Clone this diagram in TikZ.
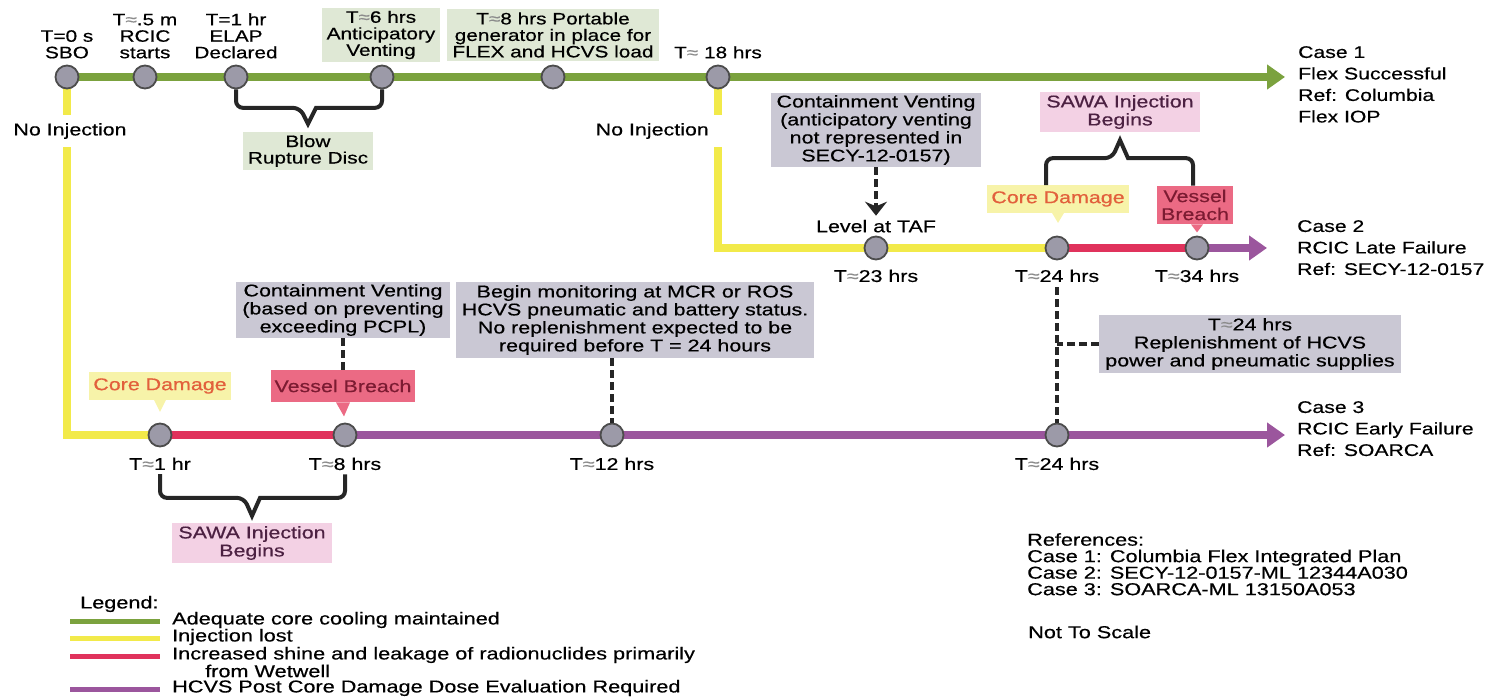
\documentclass[tikz,border=0pt]{standalone}
\usepackage{fontspec}
\setmainfont{Liberation Sans}[FakeStretch=1.26,FakeBold=0.5]
\usetikzlibrary{arrows.meta,positioning,backgrounds}

\definecolor{cooling}{HTML}{7BA23E}
\definecolor{injlost}{HTML}{F2EA4A}
\definecolor{shine}{HTML}{E0325C}
\definecolor{dose}{HTML}{9B569D}
\definecolor{evgray}{HTML}{9C9AA8}
\definecolor{boxgreen}{HTML}{DFE8D5}
\definecolor{boxgray}{HTML}{CAC8D4}
\definecolor{boxpink}{HTML}{F3D1E4}
\definecolor{cdfill}{HTML}{F7F3A9}
\definecolor{cdtext}{HTML}{E2603C}
\definecolor{vbfill}{HTML}{EB6A84}
\definecolor{vbtext}{HTML}{7C1B32}
\definecolor{sawatext}{HTML}{4C2142}

\newcommand\apx{{\color{black!45}≈}}

\tikzset{
  event/.style={circle, draw=black!70, fill=evgray, line width=1.8pt, minimum size=23pt, inner sep=0pt},
  tline/.style={line width=8pt},
  tarrow/.style={tline, -{Triangle[length=18pt,width=24pt]}},
  txt/.style={align=center, inner sep=1pt, font=\fontsize{17}{18}\selectfont},
  toptxt/.style={align=center, inner sep=1pt, font=\fontsize{16.5}{16.5}\selectfont},
  casetxt/.style={align=left, anchor=north west, inner sep=0pt, font=\fontsize{16.8}{21.5}\selectfont},
  legtxt/.style={anchor=west, inner sep=0pt, font=\fontsize{17.2}{17}\selectfont},
  greenbox/.style={toptxt, fill=boxgreen, inner xsep=5pt, inner ysep=3pt},
  graybox/.style={txt, fill=boxgray, inner xsep=6pt, inner ysep=2pt},
  sawabox/.style={txt, fill=boxpink, text=sawatext, inner xsep=6pt, inner ysep=3pt},
  cdbox/.style={txt, fill=cdfill, text=cdtext, inner xsep=4pt, inner ysep=6pt},
  vbbox/.style={txt, fill=vbfill, text=vbtext, inner xsep=4pt, inner ysep=4pt},
  noinj/.style={txt, fill=white, inner ysep=8pt},
  bracket/.style={line width=4pt, black!85, rounded corners=7pt},
  dashline/.style={line width=4pt, black!85, dash pattern=on 8pt off 4pt},
}

\begin{document}
\begin{tikzpicture}[x=1pt,y=-1pt]
  \useasboundingbox (0,0) rectangle (1490,700);

  % case 1 events
  \node[event] (sbo) at (67,77) {};
  \node[event] (rcic) at (145,77) {};
  \node[event] (elap) at (236,77) {};
  \node[event] (antv) at (382,77) {};
  \node[event] (gen) at (553,77) {};
  \node[event] (t18) at (718,77) {};
  % case 2 events
  \node[event] (taf) at (876,248) {};
  \node[event] (cdtwo) at (1057,248) {};
  \node[event] (vbtwo) at (1197,248) {};
  % case 3 events
  \node[event] (cdthree) at (160,435) {};
  \node[event] (vbthree) at (345,435) {};
  \node[event] (mon) at (612,435) {};
  \node[event] (rep) at (1057,435) {};

  \coordinate (tipone) at (1285,77);
  \coordinate (tiptwo) at (1267,248);
  \coordinate (tipthree) at (1285,435);

  \begin{pgfonlayer}{background}
    \draw[tarrow, cooling] (sbo.center) -- (tipone);
    \draw[tline, injlost] (t18.center) |- (cdtwo.center);
    \draw[tline, shine] (cdtwo.center) -- (vbtwo.center);
    \draw[tarrow, dose] (vbtwo.center) -- (tiptwo);
    \draw[tline, injlost] (sbo.center) |- (cdthree.center);
    \draw[tline, shine] (cdthree.center) -- (vbthree.center);
    \draw[tarrow, dose] (vbthree.center) -- (tipthree);
  \end{pgfonlayer}

  % case 1 labels
  \node[toptxt, above=5pt of sbo] (sbolab) {T=0 s\\SBO};
  \node[toptxt, above=5pt of rcic] (rciclab) {T\apx.5 m\\RCIC\\starts};
  \node[toptxt, above=5pt of elap] (elaplab) {T=1 hr\\ELAP\\Declared};
  \node[greenbox] (antvlab) at (381,35) {T\apx6 hrs\\Anticipatory\\Venting};
  \node[greenbox] (genlab) at (553,35) {T\apx8 hrs Portable\\generator in place for\\FLEX and HCVS load};
  \node[toptxt, above=5pt of t18] (t18lab) {T\apx\ 18 hrs};
  \node[greenbox] (blow) at (308,151) {Blow\\Rupture Disc};
  \draw[bracket] (elap.south) |- ([xshift=-8pt,yshift=24pt]blow.north)
    [sharp corners] -- ([yshift=8pt]blow.north) -- ([xshift=8pt,yshift=24pt]blow.north)
    [rounded corners=7pt] -| (antv.south);
  \node[noinj] (noinjone) at (70,131) {No Injection};
  \node[noinj, anchor=east] (noinjtwo) at (724,131) {No Injection\hspace*{14pt}};
  \node[casetxt] (caseone) at (1298,46) {Case 1\\Flex Successful\\Ref: Columbia\\Flex IOP};

  % case 2 labels
  \node[graybox] (cvtwo) at (876,130) {Containment Venting\\(anticipatory venting\\not represented in\\SECY-12-0157)};
  \node[txt, above=2pt of taf] (taflab) {Level at TAF};
  \draw[dashline, -{Stealth[length=14pt,width=22pt]}, shorten >=3pt] (cvtwo.south) -- (taflab.north);
  \node[txt, below=8pt of taf] (t23lab) {T\apx23 hrs};
  \node[txt, below=8pt of cdtwo] (t24lab) {T\apx24 hrs};
  \node[txt, below=8pt of vbtwo] (t34lab) {T\apx34 hrs};
  \node[cdbox] (cdtwobox) at (1058,199) {Core Damage};
  \fill[cdfill] ([xshift=-6pt]cdtwobox.south) -- ([xshift=6pt]cdtwobox.south) -- ([yshift=-10pt]cdtwobox.south) -- cycle;
  \node[vbbox] (vbtwobox) at (1195,205) {Vessel\\Breach};
  \fill[vbfill] ([xshift=-4pt]vbtwobox.south) -- ([xshift=8pt]vbtwobox.south) -- ([xshift=2pt,yshift=-8pt]vbtwobox.south) -- cycle;
  \node[sawabox] (sawatwo) at (1120,112) {SAWA Injection\\Begins};
  \draw[bracket] ([xshift=-12pt]cdtwobox.north) |- ([xshift=-8pt,yshift=-26pt]sawatwo.south)
    [sharp corners] -- ([yshift=-8pt]sawatwo.south) -- ([xshift=8pt,yshift=-26pt]sawatwo.south)
    [rounded corners=7pt] -| ([xshift=-2pt]vbtwobox.north);
  \node[casetxt] (casetwo) at (1297,220) {Case 2\\RCIC Late Failure\\Ref: SECY-12-0157};
  \node[graybox, inner ysep=3pt] (repbox) at (1250,344) {T\apx24 hrs\\Replenishment of HCVS\\power and pneumatic supplies};
  \draw[dashline] ([yshift=-4pt]t24lab.south) -- (rep.north);
  \draw[dashline] (repbox.west) -- (repbox.west -| rep);

  % case 3 labels
  \node[txt, below=9pt of cdthree] (t1lab) {T\apx1 hr};
  \node[txt, below=9pt of vbthree] (t8lab) {T\apx8 hrs};
  \node[txt, below=9pt of mon] (t12lab) {T\apx12 hrs};
  \node[txt, below=9pt of rep] (t24three) {T\apx24 hrs};
  \node[cdbox] (cdthreebox) at (160,386) {Core Damage};
  \fill[cdfill] ([xshift=-6pt]cdthreebox.south) -- ([xshift=6pt]cdthreebox.south) -- ([yshift=-12pt]cdthreebox.south) -- cycle;
  \node[vbbox, inner ysep=10pt] (vbthreebox) at (343,386) {Vessel Breach};
  \fill[vbfill] ([xshift=-7pt]vbthreebox.south) -- ([xshift=7pt]vbthreebox.south) -- ([xshift=1pt,yshift=-14pt]vbthreebox.south) -- cycle;
  \node[graybox] (cvthree) at (343,310) {Containment Venting\\(based on preventing\\exceeding PCPL)};
  \draw[dashline] (cvthree.south) -- (vbthreebox.north);
  \node[graybox, inner ysep=3pt] (monbox) at (635,320) {Begin monitoring at MCR or ROS\\HCVS pneumatic and battery status.\\No replenishment expected to be\\required before T = 24 hours};
  \draw[dashline] (monbox.south -| mon) -- (mon.north);
  \node[sawabox] (sawathree) at (252,543) {SAWA Injection\\Begins};
  \draw[bracket] ([yshift=-3pt]t1lab.south) |- ([xshift=-8pt,yshift=25pt]sawathree.north)
    [sharp corners] -- ([yshift=7pt]sawathree.north) -- ([xshift=8pt,yshift=25pt]sawathree.north)
    [rounded corners=7pt] -| ([yshift=-3pt]vbthree |- t8lab.south);
  \node[casetxt] (casethree) at (1297,401) {Case 3\\RCIC Early Failure\\Ref: SOARCA};

  % references
  \node[casetxt, font=\fontsize{17.2}{16.5}\selectfont] (refs) at (1027,533) {References:\\Case 1: Columbia Flex Integrated Plan\\Case 2: SECY-12-0157-ML 12344A030\\Case 3: SOARCA-ML 13150A053};
  \node[legtxt] (scale) at (1028,632) {Not To Scale};

  % legend
  \node[legtxt] (legend) at (80,604) {Legend:};
  \draw[line width=5pt, cooling] (70,621) -- (160,621);
  \node[legtxt] (legone) at (172,620) {Adequate core cooling maintained};
  \draw[line width=5pt, injlost] (70,638) -- (160,638);
  \node[legtxt] (legtwo) at (172,637) {Injection lost};
  \draw[line width=5pt, shine] (70,656) -- (160,656);
  \node[legtxt] (legthree) at (172,655) {Increased shine and leakage of radionuclides primarily};
  \node[legtxt] (legthreeb) at (205,671) {from Wetwell};
  \draw[line width=5pt, dose] (70,689) -- (160,689);
  \node[legtxt] (legfour) at (172,688) {HCVS Post Core Damage Dose Evaluation Required};
\end{tikzpicture}
\end{document}
